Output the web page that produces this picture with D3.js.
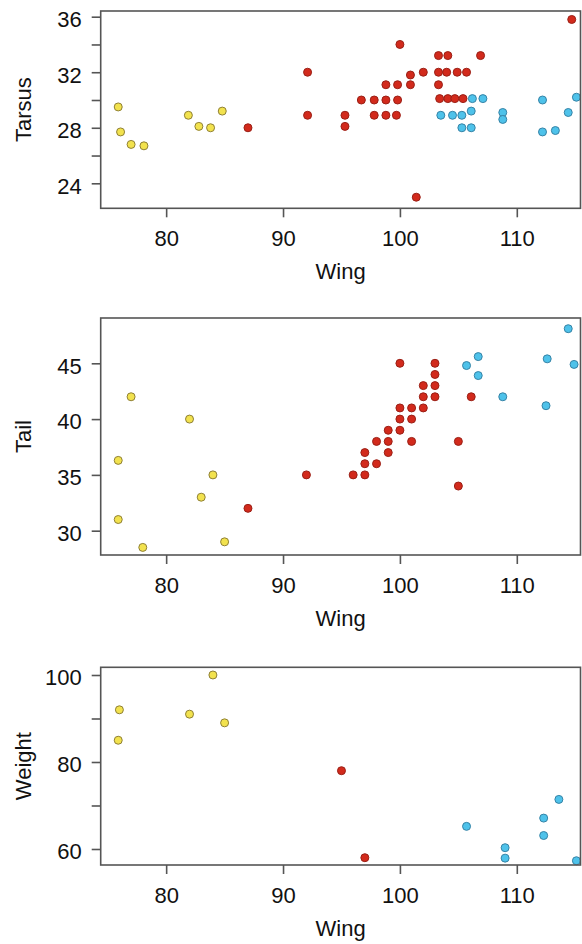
<!DOCTYPE html>
<html>
<head>
<meta charset="utf-8">
<script src="https://cdn.jsdelivr.net/npm/d3@7"></script>
<style>
  html, body { margin: 0; padding: 0; background: #ffffff; }
  svg { display: block; }
  text { font-family: "Liberation Sans", Arial, Helvetica, sans-serif; fill: #111111; }
</style>
</head>
<body>
<svg id="chart" width="582" height="944"></svg>
<script>
// ---- data: [wing, value] pairs per group ----
const tarsusYellow = [[75.9,29.5],[76.1,27.7],[77.0,26.8],[78.1,26.7],[81.9,28.9],[82.8,28.1],[83.8,28.0],[84.8,29.2]];
const tarsusRed = [[87,28],[92.1,32],[92.1,28.9],[95.3,28.9],[95.3,28.1],[96.7,30],[97.8,30],[98.8,30],[99.8,30],
  [97.8,28.9],[98.8,28.9],[99.7,28.9],[98.8,31.1],[99.8,31.1],[100.9,31.1],[100.9,31.8],[102.0,32.0],[103.3,32.0],
  [104.0,32.0],[104.9,32.0],[105.7,32.0],[103.3,31.1],[100,34],[103.3,33.2],[104.1,33.2],[106.9,33.2],
  [103.4,30.1],[104.1,30.1],[104.7,30.1],[105.4,30.1],[101.4,23.0],[114.7,35.8]];
const tarsusBlue = [[106.2,30.1],[107.1,30.1],[103.5,28.9],[104.5,28.9],[105.3,28.9],[106.1,29.2],[105.3,28.0],[106.1,28.0],
  [108.8,29.1],[108.8,28.6],[112.2,30.0],[112.2,27.7],[113.3,27.8],[114.4,29.1],[115.1,30.2]];

const tailYellow = [[77,42],[82,40],[75.9,36.3],[84,35],[83,33],[75.9,31],[78,28.5],[85,29]];
const tailRed = [[87,32],[92,35],[100,45],[103,45],[103,44],[103,43],[103,42],[102,43],[102,42],[102,41],
  [100,41],[100,40],[100,39],[101,41],[101,40],[101,38],[99,39],[99,38],[99,37],[98,38],[98,36],
  [97,37],[97,36],[97,35],[96,35],[105,38],[105,34],[106.1,42]];
const tailBlue = [[105.7,44.8],[106.7,45.6],[106.7,43.9],[108.8,42],[112.6,45.4],[112.5,41.2],[114.4,48.1],[114.9,44.9]];

const weightYellow = [[76,92],[75.9,85],[84,100],[82,91],[85,89]];
const weightRed = [[95,78],[97,58]];
const weightBlue = [[105.7,65.2],[109,60.3],[109,57.9],[112.3,67.1],[112.3,63.1],[113.6,71.4],[115.1,57.3]];

const wingTicks = [80, 90, 100, 110];
const tarsusTicks = [24, 26, 28, 30, 32, 34, 36];
const tarsusLabels = [24, 28, 32, 36];
const tailTicks = [30, 35, 40, 45];
const tailLabels = [30, 35, 40, 45];
const weightTicks = [60, 70, 80, 90, 100];
const weightLabels = [60, 80, 100];

const xTitle = "Wing";
const yTitles = ["Tarsus", "Tail", "Weight"];

// ---- styling / layout ----
const colors = {
  yellow: { fill: "#f2e24e", stroke: "#8f8035" },
  red:    { fill: "#d22a1c", stroke: "#9a2016" },
  blue:   { fill: "#4ec2ea", stroke: "#3683a6" }
};
const frameColor = "#555555";
const left = 100.7, right = 580.5;

const panels = [
  { title: yTitles[0], top: 11, bottom: 208.3, domain: [22.2, 36.41], ticks: tarsusTicks, labels: tarsusLabels,
    groups: [[tarsusYellow, "yellow"], [tarsusRed, "red"], [tarsusBlue, "blue"]] },
  { title: yTitles[1], top: 318, bottom: 555, domain: [27.82, 49.06], ticks: tailTicks, labels: tailLabels,
    groups: [[tailYellow, "yellow"], [tailRed, "red"], [tailBlue, "blue"]] },
  { title: yTitles[2], top: 667.3, bottom: 865, domain: [56.32, 101.77], ticks: weightTicks, labels: weightLabels,
    groups: [[weightYellow, "yellow"], [weightRed, "red"], [weightBlue, "blue"]] }
];

const svg = d3.select("#chart");
const x = d3.scaleLinear().domain([74.4, 115.45]).range([left, right]);
const fontSize = 22;

panels.forEach(p => {
  const y = d3.scaleLinear().domain(p.domain).range([p.bottom, p.top]);
  const g = svg.append("g");

  // points
  p.groups.forEach(([data, key]) => {
    g.append("g").selectAll("circle").data(data).join("circle")
      .attr("cx", d => x(d[0]))
      .attr("cy", d => y(d[1]))
      .attr("r", 4)
      .attr("fill", colors[key].fill)
      .attr("stroke", colors[key].stroke)
      .attr("stroke-width", 1);
  });

  // frame
  g.append("rect")
    .attr("x", left).attr("y", p.top)
    .attr("width", right - left).attr("height", p.bottom - p.top)
    .attr("fill", "none").attr("stroke", frameColor).attr("stroke-width", 1.6);

  // x axis
  const xAxis = d3.axisBottom(x).tickValues(wingTicks).tickSize(9).tickPadding(0).tickFormat(d3.format("d"));
  const xg = g.append("g").attr("transform", `translate(0,${p.bottom})`).call(xAxis);
  xg.select(".domain").remove();
  xg.selectAll(".tick line").attr("stroke", frameColor).attr("stroke-width", 1.6);
  xg.selectAll(".tick text").attr("y", 38).attr("dy", null)
    .attr("font-size", fontSize).style("font-family", "Liberation Sans, Arial, sans-serif").attr("fill", "#111111");

  // y axis
  const yAxis = d3.axisLeft(y).tickValues(p.ticks).tickSize(9).tickPadding(10)
    .tickFormat(d => p.labels.includes(d) ? d3.format("d")(d) : "");
  const yg = g.append("g").attr("transform", `translate(${left},0)`).call(yAxis);
  yg.select(".domain").remove();
  yg.selectAll(".tick line").attr("stroke", frameColor).attr("stroke-width", 1.6);
  yg.selectAll(".tick text").attr("dy", "0.45em")
    .attr("font-size", fontSize).style("font-family", "Liberation Sans, Arial, sans-serif").attr("fill", "#111111");

  // titles
  g.append("text")
    .attr("x", (left + right) / 2).attr("y", p.bottom + 71)
    .attr("text-anchor", "middle").attr("font-size", fontSize)
    .text(xTitle);
  g.append("text")
    .attr("transform", `translate(31,${(p.top + p.bottom) / 2}) rotate(-90)`)
    .attr("text-anchor", "middle").attr("font-size", fontSize)
    .text(p.title);
});
</script>
</body>
</html>
